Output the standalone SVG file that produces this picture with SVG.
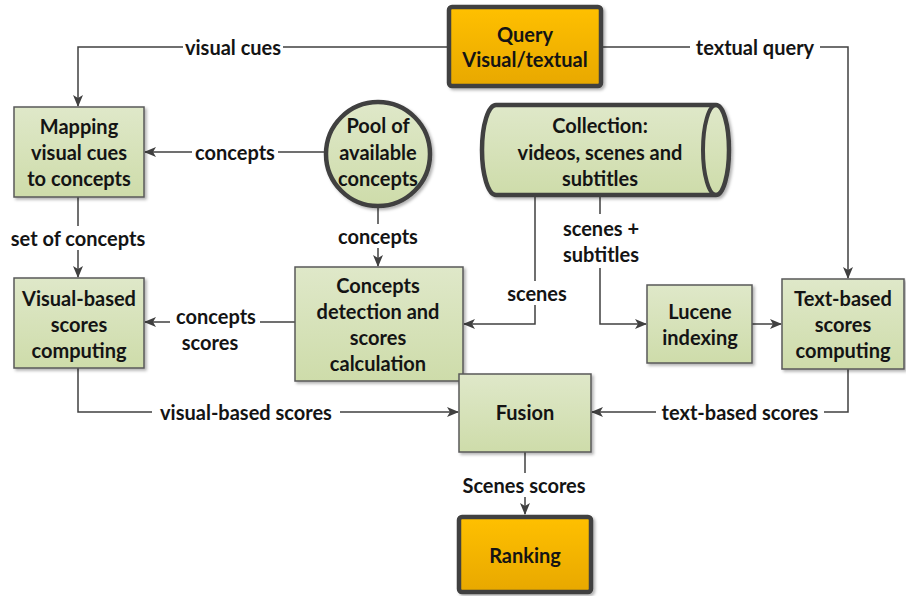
<svg xmlns="http://www.w3.org/2000/svg" width="906" height="596" viewBox="0 0 906 596">
<defs>
<linearGradient id="g" x1="0" y1="0" x2="0" y2="1"><stop offset="0" stop-color="#dfe8c9"/><stop offset="1" stop-color="#cedcaa"/></linearGradient>
<linearGradient id="o" x1="0" y1="0" x2="0" y2="1"><stop offset="0" stop-color="#ffc000"/><stop offset="1" stop-color="#e8a800"/></linearGradient>
<marker id="a" viewBox="0 0 12 10" refX="11" refY="5" markerWidth="12" markerHeight="10" markerUnits="userSpaceOnUse" orient="auto"><path d="M0,0 L12,5 L0,10 L3,5 Z" fill="#404040"/></marker>
<filter id="sh" x="-10%" y="-10%" width="130%" height="130%"><feDropShadow dx="2" dy="2" stdDeviation="1.5" flood-color="#000" flood-opacity="0.3"/></filter>
</defs>
<style>
text{font-family:Lato,"Open Sans","Liberation Sans",sans-serif;font-weight:bold;font-size:20px;fill:#141414;text-anchor:middle;dominant-baseline:central}
.box{fill:url(#g);stroke:#595959;stroke-width:1.5;filter:url(#sh)}
.gold{fill:url(#o);stroke:#404040;stroke-width:4.5;filter:url(#sh)}
.thick{fill:url(#g);stroke:#404040;stroke-width:4.5;filter:url(#sh)}
.c{fill:none;stroke:#404040;stroke-width:1.5}
.lb{fill:#fff}
</style>
<g id="connectors">
<path class="c" d="M447,47 H78 V106" marker-end="url(#a)"/>
<path class="c" d="M603,47 H848 V278" marker-end="url(#a)"/>
<path class="c" d="M324,152 H145" marker-end="url(#a)"/>
<path class="c" d="M78,197 V277" marker-end="url(#a)"/>
<path class="c" d="M378,206 V266" marker-end="url(#a)"/>
<path class="c" d="M535,195 V324 H464" marker-end="url(#a)"/>
<path class="c" d="M600,195 V324 H646" marker-end="url(#a)"/>
<path class="c" d="M752,324 H781" marker-end="url(#a)"/>
<path class="c" d="M295,322 H145" marker-end="url(#a)"/>
<path class="c" d="M78,368 V412 H458" marker-end="url(#a)"/>
<path class="c" d="M848,369 V412 H592" marker-end="url(#a)"/>
<path class="c" d="M525,452 V514" marker-end="url(#a)"/>
<rect class="lb" x="183" y="35" width="100" height="24"/>
<text x="233" y="47">visual cues</text>
<rect class="lb" x="690" y="35" width="130" height="24"/>
<text x="755" y="47">textual query</text>
<rect class="lb" x="192" y="140" width="86" height="24"/>
<text x="235" y="152">concepts</text>
<rect class="lb" x="5" y="226" width="146" height="24"/>
<text x="78" y="238">set of concepts</text>
<rect class="lb" x="334" y="224" width="88" height="24"/>
<text x="378" y="236">concepts</text>
<rect class="lb" x="502" y="281" width="68" height="24"/>
<text x="537" y="293">scenes</text>
<rect class="lb" x="558" y="214" width="86" height="54"/>
<text x="601" y="228">scenes +</text>
<text x="601" y="254">subtitles</text>
<rect class="lb" x="170" y="304" width="90" height="50"/>
<text x="216" y="316">concepts</text>
<text x="210" y="342">scores</text>
<rect class="lb" x="152" y="400" width="188" height="24"/>
<text x="246" y="412">visual-based scores</text>
<rect class="lb" x="656" y="400" width="168" height="24"/>
<text x="740" y="412">text-based scores</text>
<rect class="lb" x="458" y="473" width="132" height="24"/>
<text x="524" y="485">Scenes scores</text>
</g>
<g id="query">
<rect class="gold" x="449" y="7" width="152" height="79" rx="3"/>
<text x="525" y="34">Query</text>
<text x="525" y="59">Visual/textual</text>
</g>
<g id="mapping">
<rect class="box" x="14" y="107" width="130" height="90"/>
<text x="79" y="126">Mapping</text>
<text x="79" y="152">visual cues</text>
<text x="79" y="178">to concepts</text>
</g>
<g id="pool">
<circle class="thick" cx="378" cy="154" r="52"/>
<text x="378" y="125">Pool of</text>
<text x="378" y="152">available</text>
<text x="378" y="178">concepts</text>
</g>
<g id="collection">
<path class="thick" d="M496,105 L716,105 A13,45 0 0 1 716,195 L496,195 A14,45 0 0 1 496,105 Z"/>
<path d="M716,105 A13,45 0 0 0 716,195" fill="none" stroke="#404040" stroke-width="4"/>
<text x="600" y="125">Collection:</text>
<text x="600" y="152">videos, scenes and</text>
<text x="600" y="178">subtitles</text>
</g>
<g id="visual-based">
<rect class="box" x="14" y="278" width="130" height="90"/>
<text x="79" y="298">Visual-based</text>
<text x="79" y="324">scores</text>
<text x="79" y="350">computing</text>
</g>
<g id="concepts-detection">
<rect class="box" x="295" y="267" width="168" height="114"/>
<text x="378" y="285">Concepts</text>
<text x="378" y="311">detection and</text>
<text x="378" y="337">scores</text>
<text x="378" y="363">calculation</text>
</g>
<g id="lucene">
<rect class="box" x="647" y="285" width="105" height="78"/>
<text x="700" y="311">Lucene</text>
<text x="700" y="337">indexing</text>
</g>
<g id="text-based">
<rect class="box" x="782" y="279" width="122" height="90"/>
<text x="843" y="298">Text-based</text>
<text x="843" y="324">scores</text>
<text x="843" y="350">computing</text>
</g>
<g id="fusion">
<rect class="box" x="459" y="374" width="132" height="78"/>
<text x="525" y="412">Fusion</text>
</g>
<g id="ranking">
<rect class="gold" x="459" y="517" width="132" height="75" rx="3"/>
<text x="525" y="555">Ranking</text>
</g>
</svg>
